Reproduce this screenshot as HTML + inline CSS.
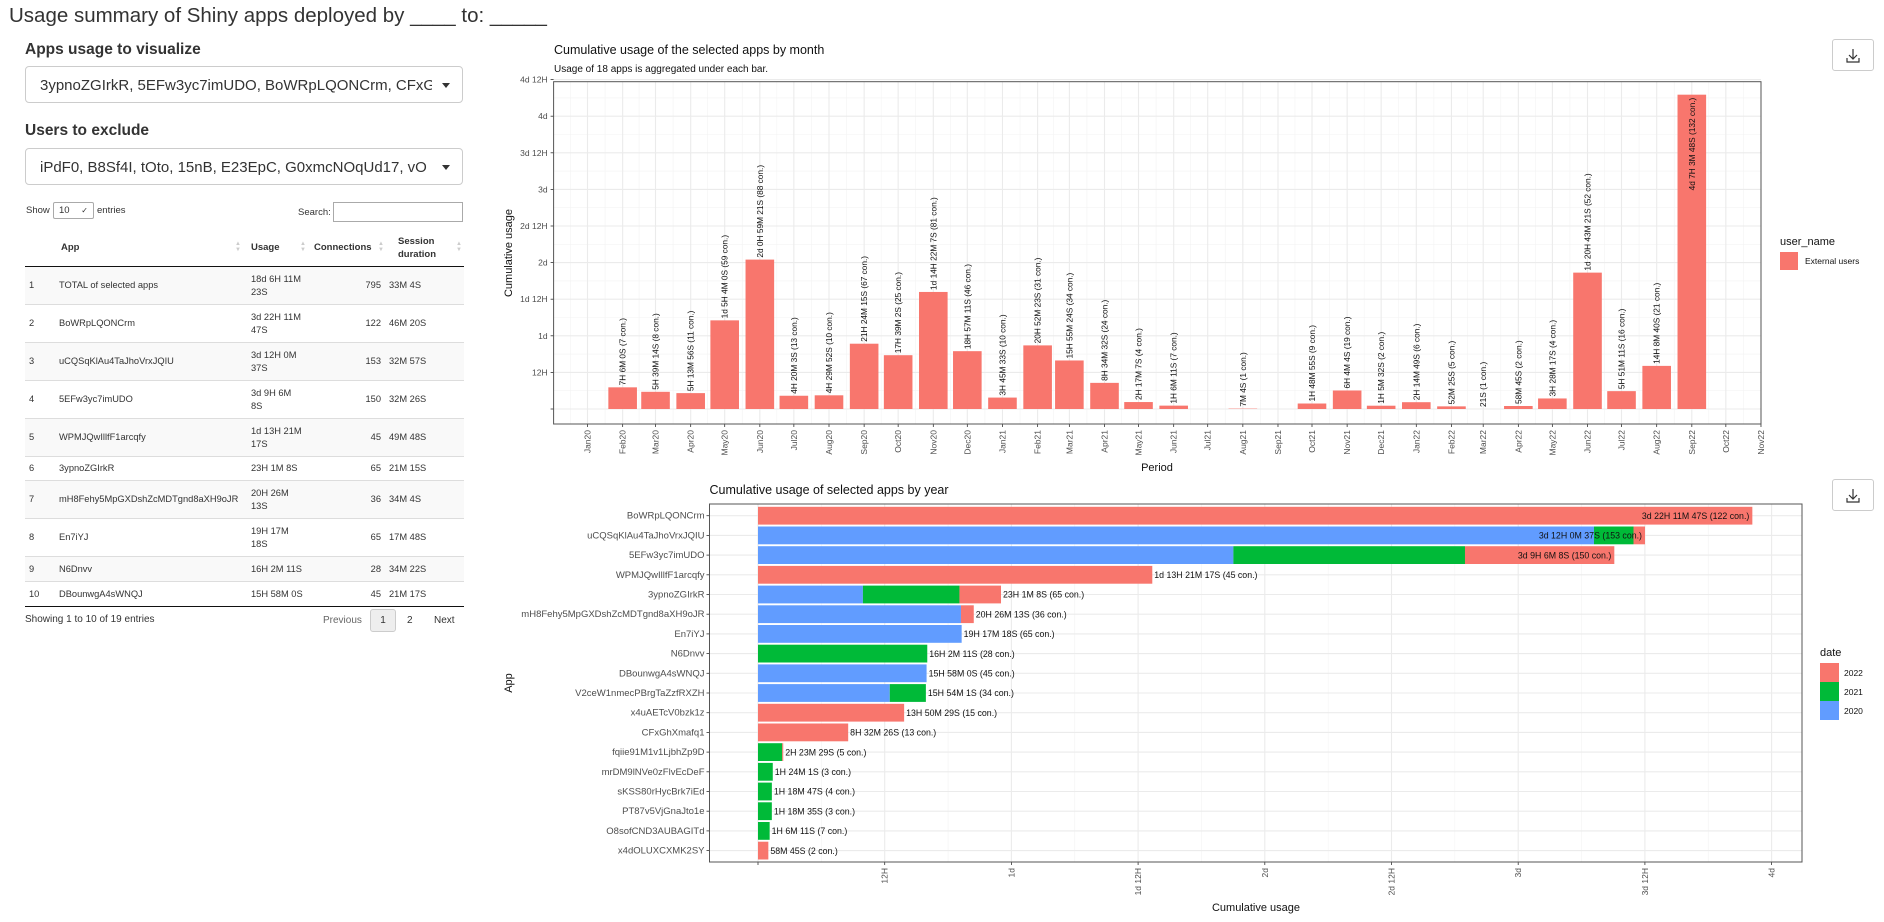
<!DOCTYPE html>
<html><head><meta charset="utf-8">
<style>
body{margin:0;width:1884px;height:922px;background:#fff;font-family:"Liberation Sans",Arial,sans-serif;color:#333;position:relative;overflow:hidden}
.abs{position:absolute}
h1{position:absolute;left:9px;top:4px;margin:0;font-weight:normal;font-size:20.5px;color:#333;white-space:nowrap}
.lbl{position:absolute;left:25px;font-weight:bold;font-size:15.5px;color:#333}
.sel{position:absolute;left:25px;width:438px;height:37px;border:1px solid #ccc;border-radius:4px;font-size:15px;line-height:37px;color:#333;overflow:hidden;white-space:nowrap;box-sizing:border-box;padding-left:14px}
.sel .caret{position:absolute;right:12px;top:16px;width:0;height:0;border-left:4px solid transparent;border-right:4px solid transparent;border-top:5px solid #333}
.sel .txt{display:inline-block;width:392px;overflow:hidden}
.small{font-size:9.5px;color:#333}
table{position:absolute;left:25px;top:229px;width:439px;border-collapse:collapse;table-layout:fixed;font-size:9.3px;color:#333}
th{font-weight:bold;font-size:9.5px;text-align:left;height:37px;border-bottom:1.5px solid #111;position:relative;padding:0 4px}
td{border-top:1px solid #ddd;padding:0 4px;vertical-align:middle;line-height:13px;overflow:hidden}
tr.odd td{background:#f9f9f9}
.arr{position:absolute;top:12px;color:#ccc;font-size:6px;line-height:6px}
.btn{position:absolute;border:1px solid #ccc;border-radius:3px;background:#fff;box-sizing:border-box}
</style></head>
<body>
<h1>Usage summary of Shiny apps deployed by ____ to: _____</h1>
<div class="lbl" style="top:41px">Apps usage to visualize</div>
<div class="sel" style="top:66px"><span class="txt">3ypnoZGIrkR, 5EFw3yc7imUDO, BoWRpLQONCrm, CFxGhXmafq1</span><span class="caret"></span></div>
<div class="lbl" style="top:122px">Users to exclude</div>
<div class="sel" style="top:148px"><span class="txt">iPdF0, B8Sf4I, tOto, 15nB, E23EpC, G0xmcNOqUd17, vO</span><span class="caret"></span></div>
<div class="abs small" style="left:26px;top:205px">Show</div>
<div class="abs small" style="left:53px;top:202px;width:41px;height:17px;border:1px solid #aaa;border-radius:2px;box-sizing:border-box;padding-left:5px;line-height:15px">10<span style="position:absolute;right:5px;top:0;font-size:8px">&#10003;</span></div>
<div class="abs small" style="left:97px;top:205px">entries</div>
<div class="abs small" style="left:298px;top:207px">Search:</div>
<div class="abs" style="left:333px;top:202px;width:130px;height:20px;border:1px solid #aaa;box-sizing:border-box"></div>

<table>
<colgroup><col style="width:30px"><col style="width:192px"><col style="width:65px"><col style="width:73px"><col style="width:79px"></colgroup>
<thead><tr>
<th></th>
<th style="padding-left:6px">App<span class="arr" style="right:6px">&#9650;<br>&#9660;</span></th>
<th>Usage<span class="arr" style="right:6px">&#9650;<br>&#9660;</span></th>
<th style="padding-left:2px">Connections<span class="arr" style="right:1px">&#9650;<br>&#9660;</span></th>
<th style="text-align:left;padding-left:13px;line-height:13px">Session<br>duration<span class="arr" style="right:2px">&#9650;<br>&#9660;</span></th>
</tr></thead>
<tbody>
<tr class="odd" style="height:38px"><td>1</td><td>TOTAL of selected apps</td><td>18d 6H 11M<br>23S</td><td style="text-align:right">795</td><td>33M 4S</td></tr>
<tr style="height:38px"><td>2</td><td>BoWRpLQONCrm</td><td>3d 22H 11M<br>47S</td><td style="text-align:right">122</td><td>46M 20S</td></tr>
<tr class="odd" style="height:38px"><td>3</td><td>uCQSqKlAu4TaJhoVrxJQIU</td><td>3d 12H 0M<br>37S</td><td style="text-align:right">153</td><td>32M 57S</td></tr>
<tr style="height:38px"><td>4</td><td>5EFw3yc7imUDO</td><td>3d 9H 6M<br>8S</td><td style="text-align:right">150</td><td>32M 26S</td></tr>
<tr class="odd" style="height:38px"><td>5</td><td>WPMJQwIllfF1arcqfy</td><td>1d 13H 21M<br>17S</td><td style="text-align:right">45</td><td>49M 48S</td></tr>
<tr style="height:24px"><td>6</td><td>3ypnoZGIrkR</td><td>23H 1M 8S</td><td style="text-align:right">65</td><td>21M 15S</td></tr>
<tr class="odd" style="height:38px"><td>7</td><td style="white-space:nowrap">mH8Fehy5MpGXDshZcMDTgnd8aXH9oJR</td><td>20H 26M<br>13S</td><td style="text-align:right">36</td><td>34M 4S</td></tr>
<tr style="height:38px"><td>8</td><td>En7iYJ</td><td>19H 17M<br>18S</td><td style="text-align:right">65</td><td>17M 48S</td></tr>
<tr class="odd" style="height:25px"><td>9</td><td>N6Dnvv</td><td>16H 2M 11S</td><td style="text-align:right">28</td><td>34M 22S</td></tr>
<tr style="height:25px;border-bottom:1.5px solid #111"><td>10</td><td>DBounwgA4sWNQJ</td><td>15H 58M 0S</td><td style="text-align:right">45</td><td>21M 17S</td></tr>
</tbody></table>
<div class="abs small" style="left:25px;top:614px;font-size:10px">Showing 1 to 10 of 19 entries</div>
<div class="abs small" style="left:323px;top:615px;font-size:10px;color:#666">Previous</div>
<div class="btn small" style="left:370px;top:609px;width:26px;height:23px;text-align:center;line-height:21px;background:#eee;font-size:10px">1</div>
<div class="abs small" style="left:407px;top:615px;font-size:10px">2</div>
<div class="abs small" style="left:434px;top:615px;font-size:10px">Next</div>

<div class="btn" style="left:1832px;top:39px;width:42px;height:32px"><svg width="40" height="30"><path d="M20 9v10M16 15l4 4 4-4M14 18v4h12v-4" fill="none" stroke="#333" stroke-width="1.2"/></svg></div>
<div class="btn" style="left:1832px;top:479px;width:42px;height:32px"><svg width="40" height="30"><path d="M20 9v10M16 15l4 4 4-4M14 18v4h12v-4" fill="none" stroke="#333" stroke-width="1.2"/></svg></div>

<svg id="charts" class="abs" style="left:0;top:0" width="1884" height="922"></svg>

<script>
// ---- Monthly chart data ----
const monthTicks = ["Jan20","Feb20","Mar20","Apr20","May20","Jun20","Jul20","Aug20","Sep20","Oct20","Nov20","Dec20","Jan21","Feb21","Mar21","Apr21","May21","Jun21","Jul21","Aug21","Sep21","Oct21","Nov21","Dec21","Jan22","Feb22","Mar22","Apr22","May22","Jun22","Jul22","Aug22","Sep22","Oct22","Nov22"];
const monthCats = ["Feb20","Mar20","Apr20","May20","Jun20","Jul20","Aug20","Sep20","Oct20","Nov20","Dec20","Jan21","Feb21","Mar21","Apr21","May21","Jun21","Aug21","Oct21","Nov21","Dec21","Jan22","Feb22","Mar22","Apr22","May22","Jun22","Jul22","Aug22","Sep22"];
const monthValues = [0.296,0.235,0.217,1.211,2.041,0.181,0.187,0.892,0.735,1.599,0.790,0.156,0.869,0.663,0.357,0.095,0.046,0.005,0.075,0.253,0.045,0.093,0.036,0.0002,0.041,0.144,1.863,0.244,0.589,4.294];
const monthLabels = ["7H 6M 0S (7 con.)","5H 39M 14S (8 con.)","5H 13M 56S (11 con.)","1d 5H 4M 0S (59 con.)","2d 0H 59M 21S (88 con.)","4H 20M 3S (13 con.)","4H 29M 52S (10 con.)","21H 24M 15S (67 con.)","17H 39M 2S (25 con.)","1d 14H 22M 7S (81 con.)","18H 57M 11S (46 con.)","3H 45M 33S (10 con.)","20H 52M 23S (31 con.)","15H 55M 24S (34 con.)","8H 34M 32S (24 con.)","2H 17M 7S (4 con.)","1H 6M 11S (7 con.)","7M 4S (1 con.)","1H 48M 55S (9 con.)","6H 4M 4S (19 con.)","1H 5M 32S (2 con.)","2H 14M 49S (6 con.)","52M 25S (5 con.)","21S (1 con.)","58M 45S (2 con.)","3H 28M 17S (4 con.)","1d 20H 43M 21S (52 con.)","5H 51M 11S (16 con.)","14H 8M 40S (21 con.)","4d 7H 3M 48S (132 con.)"];
const durTicks = ["","12H","1d","1d 12H","2d","2d 12H","3d","3d 12H","4d","4d 12H"];

// ---- Yearly chart data ----
const apps = ["BoWRpLQONCrm","uCQSqKlAu4TaJhoVrxJQIU","5EFw3yc7imUDO","WPMJQwIllfF1arcqfy","3ypnoZGIrkR","mH8Fehy5MpGXDshZcMDTgnd8aXH9oJR","En7iYJ","N6Dnvv","DBounwgA4sWNQJ","V2ceW1nmecPBrgTaZzfRXZH","x4uAETcV0bzk1z","CFxGhXmafq1","fqiie91M1v1LjbhZp9D","mrDM9lNVe0zFlvEcDeF","sKSS80rHycBrk7iEd","PT87v5VjGnaJto1e","O8sofCND3AUBAGITd","x4dOLUXCXMK2SY"];
const use2020 = [0,3.299,1.876,0,0.414,0.801,0.8037,0,0.6653,0.520,0,0,0,0,0,0,0,0];
const use2021 = [0,0.156,0.914,0,0.381,0,0,0.668,0,0.1425,0,0,0.0955,0.0583,0.0547,0.0546,0.046,0];
const use2022 = [3.924,0.0454,0.5893,1.556,0.164,0.0505,0,0,0,0,0.5767,0.3559,0.0041,0,0,0,0,0.0408];
const appLabels = ["3d 22H 11M 47S (122 con.)","3d 12H 0M 37S (153 con.)","3d 9H 6M 8S (150 con.)","1d 13H 21M 17S (45 con.)","23H 1M 8S (65 con.)","20H 26M 13S (36 con.)","19H 17M 18S (65 con.)","16H 2M 11S (28 con.)","15H 58M 0S (45 con.)","15H 54M 1S (34 con.)","13H 50M 29S (15 con.)","8H 32M 26S (13 con.)","2H 23M 29S (5 con.)","1H 24M 1S (3 con.)","1H 18M 47S (4 con.)","1H 18M 35S (3 con.)","1H 6M 11S (7 con.)","58M 45S (2 con.)"];
const xTicks2 = ["","12H","1d","1d 12H","2d","2d 12H","3d","3d 12H","4d"];

const NS="http://www.w3.org/2000/svg";
const svg=document.getElementById('charts');
function mk(tag,attrs,parent){const e=document.createElementNS(NS,tag);for(const k in attrs)e.setAttribute(k,attrs[k]);(parent||svg).appendChild(e);return e;}
function txt(s,attrs,parent){const e=mk('text',attrs,parent);e.textContent=s;return e;}

// ===== Monthly chart =====
const P1={l:553.6,r:1761,t:81.7,b:424};
const mNames=["Jan","Feb","Mar","Apr","May","Jun","Jul","Aug","Sep","Oct","Nov","Dec"];
function monthDate(lbl){const m=mNames.indexOf(lbl.slice(0,3));const y=2000+parseInt(lbl.slice(3));return Date.UTC(y,m,1);}
const D0=Date.UTC(2020,0,1);
function xMonth(lbl){return 587.5+(monthDate(lbl)-D0)/86400000*1.1338;}
function yDur(d){return 409-d*73.2;}
const g1=mk('g',{});


mk('rect',{x:P1.l,y:P1.t,width:P1.r-P1.l,height:P1.b-P1.t,fill:'#fff'},g1);
for(let i=0;i<durTicks.length;i++){const y=yDur(i*0.5+0.25);if(y>P1.t)mk('line',{x1:P1.l,x2:P1.r,y1:y,y2:y,stroke:'#f3f3f3','stroke-width':0.6},g1);}
for(let i=0;i<monthTicks.length-1;i++){const x=(xMonth(monthTicks[i])+xMonth(monthTicks[i+1]))/2;mk('line',{x1:x,x2:x,y1:P1.t,y2:P1.b,stroke:'#f3f3f3','stroke-width':0.6},g1);}
{const x=(P1.l+xMonth(monthTicks[0]))/2;mk('line',{x1:x,x2:x,y1:P1.t,y2:P1.b,stroke:'#f3f3f3','stroke-width':0.6},g1);}
durTicks.forEach((t,i)=>{const y=yDur(i*0.5);
 mk('line',{x1:P1.l,x2:P1.r,y1:y,y2:y,stroke:'#ebebeb','stroke-width':1.1},g1);
 mk('line',{x1:P1.l-3,x2:P1.l,y1:y,y2:y,stroke:'#333','stroke-width':0.8},g1);
 const e=txt(t,{x:P1.l-6,y:y+3,'font-size':8.5,fill:'#4d4d4d','text-anchor':'end'},g1);
 
});
monthTicks.forEach(t=>{const x=xMonth(t);
 mk('line',{x1:x,x2:x,y1:P1.t,y2:P1.b,stroke:'#ebebeb','stroke-width':1.1},g1);
 mk('line',{x1:x,x2:x,y1:P1.b,y2:P1.b+3,stroke:'#333','stroke-width':0.8},g1);
 const e=txt(t,{x:0,y:0,'font-size':8.5,fill:'#4d4d4d','text-anchor':'end',transform:`translate(${x+3},${P1.b+6}) rotate(-90)`},g1);
 
});
monthCats.forEach((c,i)=>{const x=xMonth(c);const v=monthValues[i];const y=yDur(v);
 const r=mk('rect',{x:x-14.3,y:y,width:28.6,height:yDur(0)-y,fill:'#F8766D'},g1);
 
 
 const inside=(y-120)<P1.t;
 const t=txt(monthLabels[i],{x:0,y:0,'font-size':8.3,fill:'#111','text-anchor':inside?'end':'start',transform:`translate(${x+3},${inside?y+3:y-2}) rotate(-90)`},g1);
 
});
mk('rect',{x:P1.l,y:P1.t,width:P1.r-P1.l,height:P1.b-P1.t,fill:'none',stroke:'#555','stroke-width':1},g1);
txt('Cumulative usage of the selected apps by month',{x:554,y:54,'font-size':12.5,fill:'#111'},g1);
txt('Usage of 18 apps is aggregated under each bar.',{x:554,y:72,'font-size':10,fill:'#111'},g1);
txt('Period',{x:1157,y:471,'font-size':11,fill:'#111','text-anchor':'middle'},g1);
txt('Cumulative usage',{x:0,y:0,'font-size':11,fill:'#111','text-anchor':'middle',transform:'translate(512,253) rotate(-90)'},g1);
txt('user_name',{x:1780,y:245,'font-size':11,fill:'#111'},g1);
mk('rect',{x:1780,y:252,width:18,height:18,fill:'#F8766D'},g1);
txt('External users',{x:1805,y:264,'font-size':8.5,fill:'#111'},g1);

// ===== Yearly chart =====
const P2={l:709.5,r:1802,t:504,b:862};
function xU(d){return 758+d*253.4;}
function yRow(i){return 515.7+i*19.7;}
const g2=mk('g',{});


for(let i=0;i<xTicks2.length;i++){const x=xU(i*0.5+0.25);if(x<P2.r)mk('line',{x1:x,x2:x,y1:P2.t,y2:P2.b,stroke:'#f3f3f3','stroke-width':0.6},g2);}
{const x=xU(-0.25);if(x>P2.l)mk('line',{x1:x,x2:x,y1:P2.t,y2:P2.b,stroke:'#f3f3f3','stroke-width':0.6},g2);}
apps.forEach((a,i)=>{const y=yRow(i);
 mk('line',{x1:P2.l,x2:P2.r,y1:y,y2:y,stroke:'#ebebeb','stroke-width':1.1},g2);
 mk('line',{x1:P2.l-3,x2:P2.l,y1:y,y2:y,stroke:'#333','stroke-width':0.8},g2);
 const e=txt(a,{x:P2.l-5,y:y+3,'font-size':9.5,fill:'#4d4d4d','text-anchor':'end'},g2);
 
});
xTicks2.forEach((t,i)=>{const x=xU(i*0.5);
 mk('line',{x1:x,x2:x,y1:P2.t,y2:P2.b,stroke:'#ebebeb','stroke-width':1.1},g2);
 mk('line',{x1:x,x2:x,y1:P2.b,y2:P2.b+3,stroke:'#333','stroke-width':0.8},g2);
 const e=txt(t,{x:0,y:0,'font-size':8.5,fill:'#4d4d4d','text-anchor':'end',transform:`translate(${x+3},${P2.b+6}) rotate(-90)`},g2);
 
});
const colors=['#619CFF','#00BA38','#F8766D'];
apps.forEach((a,i)=>{const y=yRow(i);let acc=0;
 [use2020[i],use2021[i],use2022[i]].forEach((v,k)=>{if(v>0){
  const r=mk('rect',{x:xU(acc),y:y-8.9,width:xU(acc+v)-xU(acc),height:17.8,fill:colors[k]},g2);
  
  
  acc+=v;}});
 const inside=i<3;
 const t=txt(appLabels[i],{x:inside?xU(acc)-3:xU(acc)+2,y:y+3.2,'font-size':8.8,fill:'#111','text-anchor':inside?'end':'start'},g2);
 
});
mk('rect',{x:P2.l,y:P2.t,width:P2.r-P2.l,height:P2.b-P2.t,fill:'none',stroke:'#555','stroke-width':1},g2);
txt('Cumulative usage of selected apps by year',{x:709.5,y:494,'font-size':12.5,fill:'#111'},g2);
txt('App',{x:0,y:0,'font-size':11,fill:'#111','text-anchor':'middle',transform:'translate(512,683) rotate(-90)'},g2);
txt('Cumulative usage',{x:1256,y:911,'font-size':11,fill:'#111','text-anchor':'middle'},g2);
txt('date',{x:1820,y:656,'font-size':11,fill:'#111'},g2);
['2022','2021','2020'].forEach((yr,k)=>{
 const s=mk('rect',{x:1820,y:663+k*19,width:19,height:19,fill:colors[2-k]},g2);
 
 const t=txt(yr,{x:1844,y:676+k*19,'font-size':8.5,fill:'#111'},g2);
 
});
</script>
</body></html>
